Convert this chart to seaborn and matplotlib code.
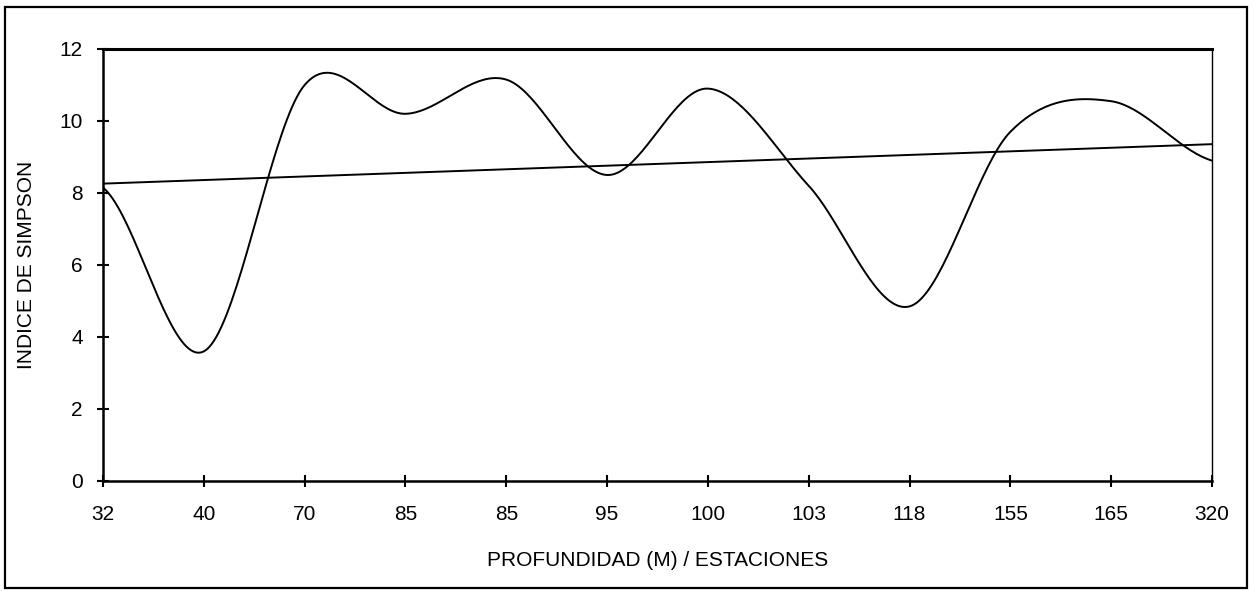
"""Indice de Simpson por profundidad / estacion, con linea de tendencia."""
import matplotlib
matplotlib.use("Agg")
import matplotlib.pyplot as plt
import numpy as np
import pandas as pd
import seaborn as sns
from matplotlib.patches import Rectangle

# datos
estaciones = ["32", "40", "70", "85", "85", "95", "100", "103", "118", "155", "165", "320"]
simpson = [8.15, 3.6, 11.0, 10.2, 11.15, 8.5, 10.9, 8.2, 4.85, 9.7, 10.55, 8.9]
y_ticks = [0, 2, 4, 6, 8, 10, 12]


def suavizar(y, n=40):
    # curva suavizada tipo Excel (Catmull-Rom)
    y = np.asarray(y, dtype=float)
    p = np.concatenate([[y[0]], y, [y[-1]]])
    xs, ys = [], []
    for i in range(len(y) - 1):
        p0, p1, p2, p3 = p[i], p[i + 1], p[i + 2], p[i + 3]
        m1 = (p2 - p0) / 2
        m2 = (p3 - p1) / 2
        t = np.linspace(0, 1, n, endpoint=(i == len(y) - 2))
        h00 = 2 * t**3 - 3 * t**2 + 1
        h10 = t**3 - 2 * t**2 + t
        h01 = -2 * t**3 + 3 * t**2
        h11 = t**3 - t**2
        xs.append(i + t)
        ys.append(h00 * p1 + h10 * m1 + h01 * p2 + h11 * m2)
    return np.concatenate(xs), np.concatenate(ys)


x_idx = np.arange(len(estaciones))
xs, ys = suavizar(simpson)
curva = pd.DataFrame({"x": xs, "y": ys})

coef = np.polyfit(x_idx, simpson, 1)
tendencia = pd.DataFrame({"x": x_idx, "y": np.polyval(coef, x_idx)})

sns.set_style("white")
plt.rcParams["font.family"] = ["Liberation Sans", "DejaVu Sans"]

fig = plt.figure(figsize=(12.55, 5.91), dpi=100)
ax = fig.add_axes([103 / 1255, 1 - 481 / 591, (1212 - 103) / 1255, (481 - 49) / 591])

sns.lineplot(data=curva, x="x", y="y", ax=ax, color="black", linewidth=1.4, sort=False)
sns.lineplot(data=tendencia, x="x", y="y", ax=ax, color="black", linewidth=1.4)

ax.set_xlim(0, len(estaciones) - 1)
ax.set_ylim(0, 12)
ax.set_xticks(x_idx)
ax.set_xticklabels(estaciones)
ax.set_yticks(y_ticks)
ax.tick_params(axis="both", direction="inout", length=9, width=1.5, color="black",
               labelsize=15, labelcolor="black", bottom=True, left=True)
ax.tick_params(axis="x", pad=13)
ax.tick_params(axis="y", pad=10)

for side, lw in [("top", 2.2), ("left", 1.8), ("bottom", 1.8), ("right", 1.0)]:
    ax.spines[side].set_visible(True)
    ax.spines[side].set_color("black")
    ax.spines[side].set_linewidth(lw)

ax.set_xlabel("PROFUNDIDAD (M) / ESTACIONES", fontsize=15, color="black")
ax.set_ylabel("INDICE DE SIMPSON", fontsize=15, color="black")
ax.xaxis.set_label_coords(0.5, -0.163)
ax.yaxis.set_label_coords(-0.060, 0.5)

# marco exterior del grafico
fig.patches.append(Rectangle((5 / 1255, 1 - 588 / 591), 1242 / 1255, 581 / 591,
                             transform=fig.transFigure, fill=False,
                             edgecolor="black", linewidth=1.6))

fig.savefig("out.png", dpi=100, facecolor="white")
